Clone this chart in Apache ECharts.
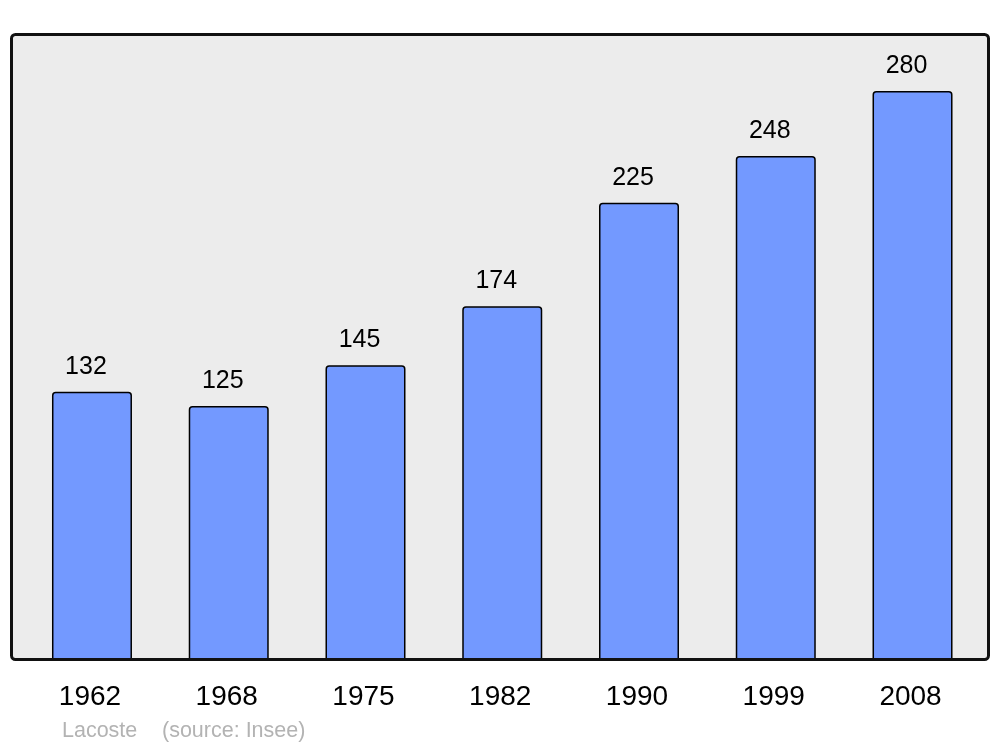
<!DOCTYPE html>
<html>
<head>
<meta charset="utf-8">
<script src="https://cdn.jsdelivr.net/npm/echarts@6/dist/echarts.min.js"></script>
<style>html,body{margin:0;padding:0;background:#fff}#c{width:1000px;height:747px}</style>
</head>
<body>
<div id="c"></div>
<script>
const categories = ['1962','1968','1975','1982','1990','1999','2008'];
const population = [132,125,145,174,225,248,280];
const footerName = 'Lacoste';
const footerSource = '(source: Insee)';

const chart = echarts.init(document.getElementById('c'), null, {renderer:'canvas'});
chart.setOption({
  animation: false,
  backgroundColor: '#ffffff',
  grid: {left: 23.6, right: 19.1, top: 34, bottom: 87, containLabel: false},
  xAxis: {
    type: 'category',
    data: categories,
    axisLine: {show: false},
    axisTick: {show: false},
    axisLabel: {color: '#000', fontSize: 28, fontFamily: 'Liberation Sans, Arial, sans-serif', margin: 23, padding: [0, 4, 0, 0]}
  },
  yAxis: {
    type: 'value', min: 0, max: 308,
    show: false,
    splitLine: {show: false}
  },
  graphic: [
    {type: 'rect', z: -10, shape: {x: 11.5, y: 34.5, width: 977, height: 625, r: 4},
     style: {fill: '#ececec', stroke: null}},
    {type: 'rect', z: 100, shape: {x: 11.5, y: 34.5, width: 977, height: 625, r: 4},
     style: {fill: null, stroke: '#111', lineWidth: 3}},
    {type: 'text', z: 100, x: 62, y: 720.5, style: {text: footerName, fill: '#b3b3b3', fontSize: 21.5, fontFamily: 'Liberation Sans, Arial, sans-serif'}},
    {type: 'text', z: 100, x: 162, y: 720.5, style: {text: footerSource, fill: '#b3b3b3', fontSize: 21.5, fontFamily: 'Liberation Sans, Arial, sans-serif'}}
  ],
  series: [{
    type: 'bar',
    data: population,
    barWidth: 80,
    itemStyle: {color: '#7399ff', borderColor: '#000', borderWidth: 1.5, borderRadius: [3,3,0,0]},
    label: {show: true, position: 'top', distance: 12.5, offset: [-6, 0], color: '#000', fontSize: 25, fontFamily: 'Liberation Sans, Arial, sans-serif'}
  }]
});
</script>
</body>
</html>
